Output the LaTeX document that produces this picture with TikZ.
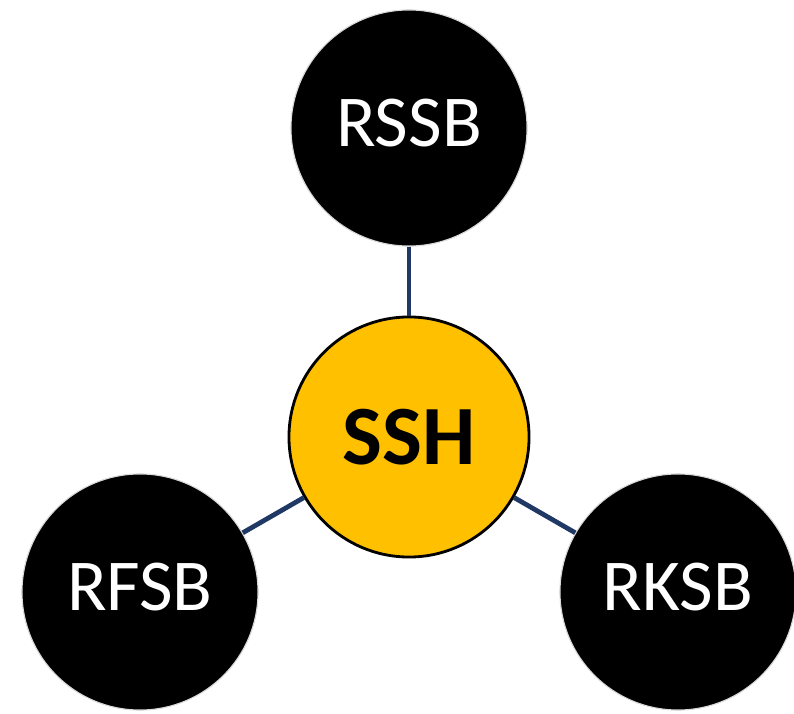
\documentclass[tikz,border=0pt]{standalone}
\usepackage{fontspec}
\setmainfont{Carlito}
\definecolor{hubgold}{HTML}{FFC000}
\definecolor{linknavy}{HTML}{1F3864}
\begin{document}
\begin{tikzpicture}[x=0.025cm,y=-0.025cm,
        board/.style={circle, fill=black, draw=black!15, line width=0.8pt,
            minimum size=5.9cm, text=white, text depth=0.25cm,
            font=\fontsize{52}{62}\selectfont},
        hub/.style={circle, fill=hubgold, draw=black, line width=2pt,
            minimum size=6.0cm, font=\fontsize{60}{72}\selectfont\bfseries},
        link/.style={draw=linknavy, line width=3.4pt}]
    \useasboundingbox (0,0) rectangle (794,714);
    \node[hub] (ssh) at (409,437) {SSH};
    \node[board] (rssb) at (409,128) {RSSB};
    \node[board] (rfsb) at (140,592) {RFSB};
    \node[board] (rksb) at (678,592) {RKSB};
    \draw[link] (rssb) -- (ssh);
    \draw[link] (rfsb) -- (ssh);
    \draw[link] (rksb) -- (ssh);
\end{tikzpicture}
\end{document}
